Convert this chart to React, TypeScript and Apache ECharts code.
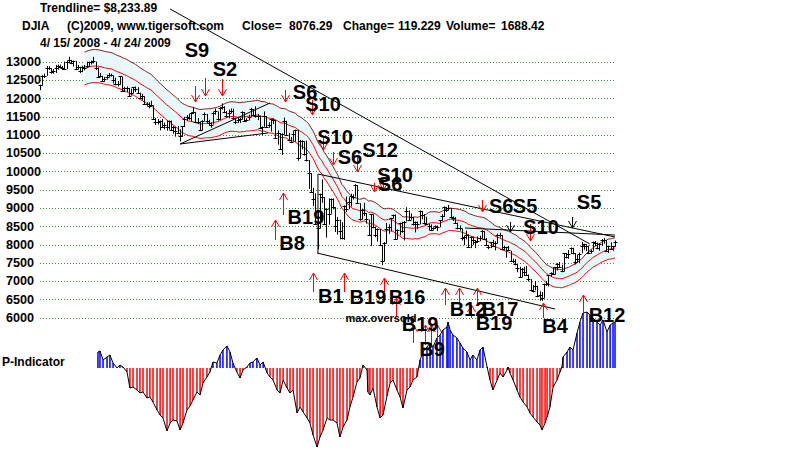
import React, { useEffect, useRef } from 'react';
import * as echarts from 'echarts';

// ---- Daily DJIA bars, 4/15/2008 .. 4/24/2009 (trading-day index 0..259) ----
const closes = [
  12362,12619,12620,12849,12825,12721,12763,12849,12891,12871,12832,12820,
  13010,13058,12969,13020,12814,12866,12745,12876,12832,12898,12992,12986,13028,12828,12601,12625,12479,12548,12594,12647,12638,
  12503,12402,12391,12604,12209,12280,12289,12083,12141,12307,12269,12160,12029,12063,11842,11842,11808,11811,11453,11347,11350,
  11382,11215,11288,11231,11384,11147,11229,11100,11055,10963,11239,11446,11496,11467,11603,11632,11349,11370,11131,11397,11583,11378,
  11326,11284,11615,11656,11432,11734,11782,11642,11532,11615,11659,11479,11349,11417,11430,11628,11387,11413,11502,11715,11543,
  11516,11532,11188,11220,11511,11231,11268,11434,11421,10918,11059,10609,11020,11388,11016,10855,10825,11023,11143,10365,10851,
  10831,10483,10325,9955,9447,9258,8579,8451,9388,9311,8578,8979,8852,9265,9034,8519,8691,8379,8176,9065,8991,9181,9325,
  9319,9625,9139,8696,8944,8871,8694,8283,8835,8497,8273,8425,7997,7552,8046,8443,8479,8727,8829,
  8149,8419,8591,8377,8635,8934,8691,8762,8565,8629,8565,8924,8824,8604,8579,8519,8419,8468,8515,8483,8668,8776,
  9034,8953,9015,8769,8742,8599,8474,8449,8200,8212,8281,7949,8228,8123,8077,8117,8175,8376,8149,8001,
  7936,8078,7957,8063,8281,8270,7889,7939,7933,7850,7553,7555,7466,7366,7115,7351,7271,7183,7063,
  6763,6726,6876,6594,6627,6547,6926,6930,7170,7224,7217,7395,7487,7400,7279,7776,7660,7750,7925,7776,7523,7609,
  7762,7978,8018,7975,7790,7838,8083,8058,7920,8029,8126,8132,7841,7970,7887,7957,8076,
];
const highs = [
  12380,12640,12680,12890,12880,12830,12810,12920,12930,12930,12890,13010,
  13030,13140,13060,13040,13030,12920,12870,12900,12920,13010,13010,13040,13140,13010,12850,12700,12620,12590,12650,12700,12680,
  12630,12570,12480,12620,12590,12320,12330,12290,12270,12320,12330,12310,12160,12130,12060,11900,11900,11940,11810,11470,11440,
  11400,11440,11340,11400,11400,11400,11250,11230,11250,11160,11250,11500,11550,11580,11620,11760,11630,11470,11370,11410,11620,11580,
  11420,11350,11630,11730,11650,11760,11870,11790,11660,11700,11730,11720,11480,11470,11470,11650,11630,11460,11560,11740,11710,
  11790,11580,11530,11240,11650,11520,11350,11440,11460,11420,11130,11060,11050,11480,11390,11060,10950,11110,11150,11150,10870,
  10860,10830,10850,10320,9960,9560,9410,8900,9400,9790,9310,9000,9270,9270,9270,9030,8760,8690,8620,9080,9320,9300,9400,
  9380,9660,9630,9140,8990,9150,8870,8690,8840,8830,8500,8450,8430,8000,8080,8600,8560,8740,8830,
  8830,8420,8610,8630,8650,9030,8940,8860,8770,8640,8640,8940,8930,8840,8770,8580,8560,8480,8530,8530,8670,8840,
  9050,9040,9090,9010,8780,8760,8610,8530,8440,8250,8390,8290,8230,8230,8130,8230,8250,8400,8370,8190,
  8000,8080,8140,8100,8310,8330,8270,7980,7940,7970,7840,7620,7610,7470,7400,7370,7400,7420,7190,
  7060,6900,7010,6880,6730,6710,6940,7010,7180,7250,7380,7400,7500,7530,7460,7780,7780,7860,7930,7920,7770,7720,
  7790,8080,8030,8010,7980,7870,8090,8100,8060,8040,8160,8190,8130,7980,8070,7970,8120,
];
const lows = [
  12230,12360,12560,12620,12780,12680,12680,12700,12790,12840,12780,12790,
  12800,12980,12940,12880,12790,12800,12700,12720,12770,12830,12860,12930,12960,12780,12570,12590,12450,12460,12520,12580,12600,
  12410,12360,12330,12380,12190,12180,12180,12060,12080,12140,12180,12150,12000,11950,11830,11800,11730,11790,11440,11280,11290,
  11130,11200,11160,11120,11150,11140,11040,10960,11030,10830,10950,11220,11380,11420,11370,11580,11330,11300,11110,11130,11390,11330,
  11250,11200,11290,11560,11400,11420,11700,11600,11480,11460,11600,11440,11300,11330,11330,11430,11370,11370,11400,11500,11520,
  11480,11410,11180,11000,11230,11200,11200,11100,11300,10900,10740,10600,10460,11020,10990,10830,10780,10830,10820,10300,10370,
  10610,10440,10280,9530,9430,9060,8540,7880,8450,9150,8560,8200,8550,8850,8970,8350,8280,8150,8150,8140,8900,8980,9050,
  9240,9320,9120,8660,8700,8790,8580,8270,7970,8450,8210,8090,7990,7450,7550,8040,8300,8370,8720,
  8140,8150,8260,8330,8120,8640,8650,8690,8530,8340,8430,8560,8700,8580,8560,8400,8410,8410,8440,8380,8480,8660,
  8760,8900,8940,8730,8650,8580,8420,8390,8120,7990,8150,7940,7910,8000,7910,8050,8100,8180,8140,7970,
  7880,7910,7940,7850,8040,8200,7850,7860,7650,7840,7530,7500,7440,7250,7100,7120,7150,7180,7000,
  6750,6700,6760,6570,6470,6470,6550,6880,6860,7120,7200,7190,7300,7370,7250,7280,7630,7620,7750,7740,7470,7530,
  7500,7770,7870,7830,7760,7760,7840,7970,7880,7840,7970,8030,7820,7780,7870,7840,7950,
];

// ---- P-Indicator, day index -> value ----
const pDays = [26.1,27,28.4,30.2,31.5,32.9,34.7,36,37.4,39.2,40.5,41.9,43.7,45,46.4,48.2,49.5,50.9,52.7,54.1,55.4,57.2,58.6,59.9,61.7,63.1,64.4,66.2,67.6,68.9,70.7,72.1,73.4,75.2,76.6,77.9,79.7,81.1,82.4,84.2,85.6,86.9,88.7,90.1,91.4,93.2,94.6,95.9,97.7,99.1,100.5,102.3,103.6,105,106.8,108.1,109.5,111.3,112.6,114,115.8,117.1,118.5,120.3,121.6,123,124.8,126.1,127.5,129.3,130.6,132,133.8,135.1,136.5,138.3,139.6,141,142.8,144.1,145.5,147.3,147.7,148.6,150,151.8,153.2,154.5,156.3,157.7,159,160.8,162.2,163.5,165.3,166.7,168,169.8,171.2,172.5,174.3,175.7,177,178.8,180.2,181.5,183.3,183.8,184.7,186,187.8,189.2,190.5,192.3,193.7,195,196.8,198.2,199.5,201.4,202.7,204,205.9,207.2,208.6,210.4,210.8,211.7,213.1,214.9,216.2,217.6,219.4,220.7,222.1,223.9,225.2,226.1,227.5,228.4,229.7,231.1,232.9,234.2,235.1,235.6,237.4,238.7,240.1,241.9,243.2,244.6,246.4,247.7,249.1,250.9,252.3,253.6,255.4,256.8,258.1,259];
const pVals = [16,17,8,11,13,5,0,3,1,-4,-20,-19,-22,-25,-24,-30,-29,-34,-42,-47,-50,-63,-55,-52,-53,-62,-55,-42,-38,-32,-24,-27,-15,-9,-4,6,5,13,18,22,16,5,-4,-10,-2,1,5,6,10,3,6,-5,-9,-12,-22,-25,-12,-20,-25,-22,-45,-39,-44,-50,-55,-67,-79,-69,-62,-50,-52,-52,-55,-69,-59,-52,-39,-29,-14,-10,3,-2,-24,-27,-20,-39,-50,-47,-28,-15,-12,-22,-29,-40,-22,-19,-12,-9,8,16,21,25,21,30,33,38,41,46,38,33,30,25,20,16,8,13,8,18,21,1,-12,-22,-12,-5,-9,-2,1,-5,-12,-22,-29,-34,-39,-45,-49,-54,-57,-62,-55,-49,-39,-19,-12,-4,1,11,16,21,18,35,46,55,56,53,50,46,43,48,36,43,45,46];

// ---- Trendlines: [dayIndex, price] end points ----
const trendlines = [
  [[58.6, 14449], [247.7, 8023]],
  [[125.2, 9937], [259, 8215]],
  [[124.8, 7777], [232, 6246]],
  [[125.2, 9937], [125.2, 7777]],
  [[191.4, 8461], [259, 8269]],
  [[63.1, 10758], [103.6, 11879]],
  [[63.1, 10758], [102.7, 11059]],
];

// ---- Signal arrows: [dayIndex, tailPrice, tipPrice] ----
const redSellArrows = [
  [69.8, 12344, 11906], [74.3, 12562, 12070], [82.0, 12535, 12070], [110.4, 12234, 11906],
  [122.5, 11961, 11551], [127.5, 10976, 10594], [132.0, 10539, 10183], [142.8, 10457, 9992],
  [150.5, 9691, 9445], [154.5, 9773, 9500], [199.1, 9226, 8898], [220.5, 8570, 8105],
];
const blackSellArrows = [[211.7, 8625, 8351], [239.6, 8762, 8461]];
const buyArrows = [
  [105.9, 8133, 8680], [109.5, 8816, 9418], [123.0, 6711, 7230], [137.0, 6711, 7230],
  [155.0, 6711, 7093], [160.4, 6027, 6547], [168.0, 5316, 5808], [173.4, 5261, 5808],
  [176.1, 5261, 5808], [178.8, 5261, 5808], [182.4, 6355, 6820], [188.7, 6355, 6820],
  [194.1, 6000, 6355], [196.8, 6355, 6820], [226.6, 6000, 6410], [244.6, 6137, 6629],
];
// ---- Signal labels: [dayIndex, price, text] ----
const signalLabels: [number, number, string][] = [
  [70.7, 13328, 'S9'], [83.3, 12809, 'S2'], [119.4, 12180, 'S6'], [127.5, 11852, 'S10'],
  [132.9, 10949, 'S10'], [139.6, 10402, 'S6'], [153.2, 10594, 'S12'], [157.7, 9664, 'S6'],
  [159.9, 9910, 'S10'], [207.7, 9062, 'S6'], [218.5, 9062, 'S5'], [225.7, 8488, 'S10'],
  [247.3, 9172, 'S5'], [113.5, 8050, 'B8'], [119.8, 8761, 'B19'], [131.0, 6601, 'B1'],
  [147.7, 6574, 'B19'], [165.3, 6574, 'B16'], [171.2, 5836, 'B19'], [176.6, 5152, 'B9'],
  [192.8, 6246, 'B12'], [207.2, 6246, 'B17'], [204.5, 5863, 'B19'], [232.0, 5781, 'B4'],
  [255.4, 6082, 'B12'],
];
const noteLabels: [number, number, string][] = [[153.6, 6000, 'max.oversold']];

const FONT = '"Liberation Sans", Arial, sans-serif';

export default function App() {
  const ref = useRef<HTMLDivElement>(null);
  useEffect(() => {
    const chart = echarts.init(ref.current!, null, { renderer: 'svg' });
    const n = Math.min(closes.length, highs.length, lows.length);
    const ma: number[][] = [], up: number[][] = [], lo: number[][] = [];
    for (let i = 20; i < n; i++) {
      let s = 0;
      for (let k = i - 20; k <= i; k++) s += closes[k];
      const m = s / 21;
      ma.push([i, m]); up.push([i, m * 1.035]); lo.push([i, m * 0.965]);
    }
    const bars = [];
    for (let i = 0; i < n; i++) bars.push([i, highs[i], lows[i], closes[i]]);

    const arrowSeries = (data: number[][], color: string) => ({
      type: 'custom', xAxisIndex: 0, yAxisIndex: 0, z: 6, silent: true, clip: false,
      data,
      renderItem: (_p: any, api: any) => {
        const x = api.value(0);
        const a = api.coord([x, api.value(1)]);
        const b = api.coord([x, api.value(2)]);
        const dir = b[1] > a[1] ? 1 : -1;
        const tx = Math.round(b[0]) + 0.5;
        return {
          type: 'group',
          children: [
            { type: 'line', shape: { x1: tx, y1: a[1], x2: tx, y2: b[1] }, style: { stroke: color, lineWidth: 1 } },
            { type: 'polyline', shape: { points: [[tx - 4, b[1] - dir * 7], [tx, b[1]], [tx + 4, b[1] - dir * 7]] }, style: { stroke: color, fill: null, lineWidth: 1 } },
          ],
        };
      },
    });
    const labelSeries = (list: [number, number, string][], font: string) => ({
      type: 'custom', xAxisIndex: 0, yAxisIndex: 0, z: 7, silent: true, clip: false,
      data: list.map((d) => [d[0], d[1]]),
      renderItem: (p: any, api: any) => {
        const c = api.coord([api.value(0), api.value(1)]);
        return { type: 'text', x: c[0], y: c[1], style: { text: list[p.dataIndex][2], font, fill: '#000', align: 'center', verticalAlign: 'middle' } };
      },
    });

    const hdr = (x: number, y: number, text: string) => ({
      type: 'text', x, y, z: 10,
      style: { text, font: `bold 12px ${FONT}`, fill: '#000', align: 'left', verticalAlign: 'middle' },
    });

    const option: any = {
      animation: false,
      backgroundColor: '#ffffff',
      grid: [
        { left: 40, width: 575, top: 43.7, height: 292.6 },
        { left: 40, width: 575, top: 308, height: 144 },
      ],
      xAxis: [
        { type: 'value', gridIndex: 0, min: 0, max: 259, show: false },
        { type: 'value', gridIndex: 1, min: 0, max: 259, show: false },
      ],
      yAxis: [
        {
          type: 'value', gridIndex: 0, min: 5500, max: 13500, interval: 500,
          axisLine: { show: false }, axisTick: { show: false },
          axisLabel: {
            align: 'left', margin: 34, fontWeight: 'bold', fontSize: 12.6, color: '#000', fontFamily: FONT,
            formatter: (v: number) => (v < 6000 || v > 13000 ? '' : String(v)),
          },
          splitLine: { show: true, showMinLine: false, showMaxLine: false, lineStyle: { color: '#2f8f2f', type: [1, 2], width: 1 } },
        },
        { type: 'value', gridIndex: 1, min: -84, max: 60, show: false },
      ],
      graphic: [
        hdr(40, 8, 'Trendline= $8,233.89'),
        hdr(22, 26, 'DJIA'),
        hdr(67, 26, '(C)2009, www.tigersoft.com'),
        hdr(242, 26, 'Close='),
        hdr(289, 26, '8076.29'),
        hdr(343, 26, 'Change='),
        hdr(398, 26, '119.229'),
        hdr(446, 26, 'Volume='),
        hdr(501, 26, '1688.42'),
        hdr(40, 43, '4/ 15/ 2008 - 4/ 24/ 2009'),
        hdr(2, 362, 'P-Indicator'),
      ],
      series: [
        {
          type: 'custom', xAxisIndex: 0, yAxisIndex: 0, z: 1, silent: true,
          data: [[up[0][0], up[0][1]]],
          renderItem: (_p: any, api: any) => {
            const pts: number[][] = [];
            for (const d of up) pts.push(api.coord(d));
            for (let k = lo.length - 1; k >= 0; k--) pts.push(api.coord(lo[k]));
            return { type: 'polygon', shape: { points: pts }, style: { fill: '#e8f8f9' } };
          },
        },
        { type: 'line', xAxisIndex: 0, yAxisIndex: 0, z: 2, data: up, symbol: 'none', silent: true, lineStyle: { color: '#8b1a1a', width: 1 } },
        { type: 'line', xAxisIndex: 0, yAxisIndex: 0, z: 2, data: ma, symbol: 'none', silent: true, lineStyle: { color: '#ff0000', width: 1 } },
        { type: 'line', xAxisIndex: 0, yAxisIndex: 0, z: 2, data: lo, symbol: 'none', silent: true, lineStyle: { color: '#ff0000', width: 1 } },
        ...trendlines.map((seg) => ({
          type: 'line', xAxisIndex: 0, yAxisIndex: 0, z: 3, data: seg, symbol: 'none', silent: true, clip: false,
          lineStyle: { color: '#000', width: 1 },
        })),
        {
          type: 'custom', xAxisIndex: 0, yAxisIndex: 0, z: 4, silent: true, clip: false,
          data: bars, encode: { x: 0, y: 1 },
          renderItem: (_p: any, api: any) => {
            const i = api.value(0);
            const h = api.coord([i, api.value(1)]);
            const l = api.coord([i, api.value(2)]);
            const c = api.coord([i, api.value(3)]);
            const x = Math.round(h[0]) + 0.5;
            const cy = Math.round(c[1]) + 0.5;
            return {
              type: 'group',
              children: [
                { type: 'line', shape: { x1: x, y1: h[1], x2: x, y2: l[1] }, style: { stroke: '#000', lineWidth: 1 } },
                { type: 'line', shape: { x1: x - 2, y1: cy, x2: x + 2, y2: cy }, style: { stroke: '#000', lineWidth: 1 } },
              ],
            };
          },
        },
        {
          type: 'custom', xAxisIndex: 1, yAxisIndex: 1, z: 3, silent: true,
          data: pDays.map((d, i) => [d, pVals[i]]),
          renderItem: (_p: any, api: any) => {
            const v = api.value(1);
            const a = api.coord([api.value(0), 0]);
            const b = api.coord([api.value(0), v]);
            return { type: 'line', shape: { x1: a[0], y1: a[1], x2: b[0], y2: b[1] }, style: { stroke: v >= 0 ? '#0000ff' : '#ff0000', lineWidth: 1.5 } };
          },
        },
        {
          type: 'line', xAxisIndex: 1, yAxisIndex: 1, z: 4, silent: true, symbol: 'none',
          data: pDays.map((d, i) => [d, pVals[i]]),
          lineStyle: { color: '#000', width: 1 },
        },
        arrowSeries(redSellArrows, '#ff0000'),
        arrowSeries(blackSellArrows, '#000000'),
        arrowSeries(buyArrows, '#ff0000'),
        labelSeries(signalLabels, `bold 20px ${FONT}`),
        labelSeries(noteLabels, `bold 11px ${FONT}`),
      ],
    };
    chart.setOption(option);
    return () => chart.dispose();
  }, []);
  return <div ref={ref} style={{ position: 'absolute', left: 0, top: 0, width: 800, height: 452, background: '#fff' }} />;
}
